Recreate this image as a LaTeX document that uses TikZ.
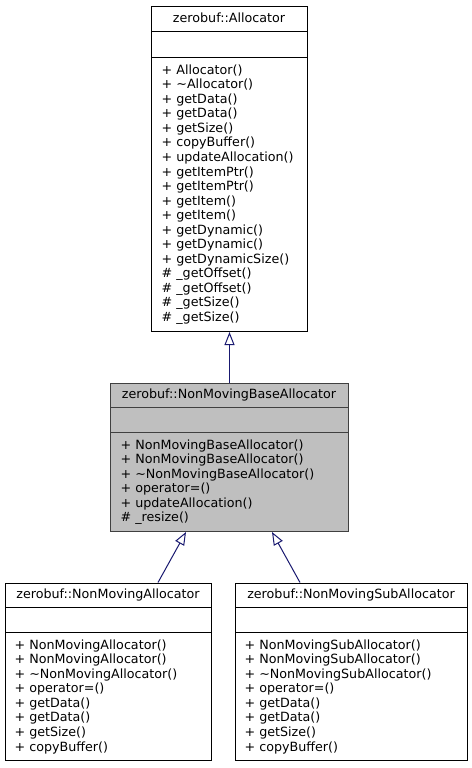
\documentclass[tikz,border=0pt]{standalone}
\usepackage{fontspec}
\setmainfont{DejaVu Sans}
\usetikzlibrary{arrows.meta}
\definecolor{edgeblue}{HTML}{191970}
\definecolor{curfill}{HTML}{BFBFBF}
\definecolor{curdraw}{HTML}{404040}
\newcommand\mtext{\fontsize{12.7}{14.55}\selectfont}
\newcommand\ml{\strut}
\begin{document}
\begin{tikzpicture}[x=1pt,y=-1pt,
  cls/.style={draw=black, line width=1pt, fill=white, anchor=north west, inner sep=0pt},
  curcls/.style={cls, draw=curdraw, fill=curfill},
  sepline/.style={draw=black, line width=1pt},
  cursep/.style={draw=curdraw, line width=1pt},
  ttl/.style={anchor=base, inner sep=0pt, font=\mtext},
  mem/.style={anchor=north west, inner sep=0pt, align=left, font=\mtext},
  inh/.style={draw=edgeblue, line width=1pt, -{Triangle[length=13pt, width=10pt, fill=white]}}]
\useasboundingbox (0,0) rectangle (471,768);
\fill[white] (0,0) rectangle (471,768);

% ---- zerobuf::Allocator
\node[cls, minimum width=156pt, minimum height=325pt] (alloc) at (151,6) {};
\draw[sepline] (alloc.west |- 0,32) -- (alloc.east |- 0,32);
\draw[sepline] (alloc.west |- 0,57.5) -- (alloc.east |- 0,57.5);
\node[ttl] (allocT) at (229,22.7) {zerobuf::Allocator};
\node[mem] (allocM) at (161.5,63.8) {\ml+ Allocator()\\ \ml+ \textasciitilde Allocator()\\ \ml+ getData()\\ \ml+ getData()\\ \ml+ getSize()\\ \ml+ copyBuffer()\\ \ml+ updateAllocation()\\ \ml+ getItemPtr()\\ \ml+ getItemPtr()\\ \ml+ getItem()\\ \ml+ getItem()\\ \ml+ getDynamic()\\ \ml+ getDynamic()\\ \ml+ getDynamicSize()\\ \ml\# \_getOffset()\\ \ml\# \_getOffset()\\ \ml\# \_getSize()\\ \ml\# \_getSize()};

% ---- zerobuf::NonMovingBaseAllocator
\node[curcls, minimum width=238pt, minimum height=148.5pt] (base) at (110,382.5) {};
\draw[cursep] (base.west |- 0,407.5) -- (base.east |- 0,407.5);
\draw[cursep] (base.west |- 0,432.7) -- (base.east |- 0,432.7);
\node[ttl] (baseT) at (229,398.7) {zerobuf::NonMovingBaseAllocator};
\node[mem] (baseM) at (120.4,438.8) {\ml+ NonMovingBaseAllocator()\\ \ml+ NonMovingBaseAllocator()\\ \ml+ \textasciitilde NonMovingBaseAllocator()\\ \ml+ operator=()\\ \ml+ updateAllocation()\\ \ml\# \_resize()};

% ---- zerobuf::NonMovingAllocator
\node[cls, minimum width=206pt, minimum height=177.5pt] (nma) at (5,582.5) {};
\draw[sepline] (nma.west |- 0,607.5) -- (nma.east |- 0,607.5);
\draw[sepline] (nma.west |- 0,632.7) -- (nma.east |- 0,632.7);
\node[ttl] (nmaT) at (108,598.8) {zerobuf::NonMovingAllocator};
\node[mem] (nmaM) at (14.4,638.8) {\ml+ NonMovingAllocator()\\ \ml+ NonMovingAllocator()\\ \ml+ \textasciitilde NonMovingAllocator()\\ \ml+ operator=()\\ \ml+ getData()\\ \ml+ getData()\\ \ml+ getSize()\\ \ml+ copyBuffer()};

% ---- zerobuf::NonMovingSubAllocator
\node[cls, minimum width=232pt, minimum height=177.5pt] (nmsa) at (235,582.5) {};
\draw[sepline] (nmsa.west |- 0,607.5) -- (nmsa.east |- 0,607.5);
\draw[sepline] (nmsa.west |- 0,632.7) -- (nmsa.east |- 0,632.7);
\node[ttl] (nmsaT) at (351,598.8) {zerobuf::NonMovingSubAllocator};
\node[mem] (nmsaM) at (244.4,638.8) {\ml+ NonMovingSubAllocator()\\ \ml+ NonMovingSubAllocator()\\ \ml+ \textasciitilde NonMovingSubAllocator()\\ \ml+ operator=()\\ \ml+ getData()\\ \ml+ getData()\\ \ml+ getSize()\\ \ml+ copyBuffer()};

% ---- inheritance edges
\draw[inh] (base.north) -- (alloc.south);
\draw[inh] ([xshift=153pt]nma.north west) -- ([xshift=76pt]base.south west);
\draw[inh] ([xshift=65pt]nmsa.north west) -- ([xshift=162pt]base.south west);
\end{tikzpicture}
\end{document}
